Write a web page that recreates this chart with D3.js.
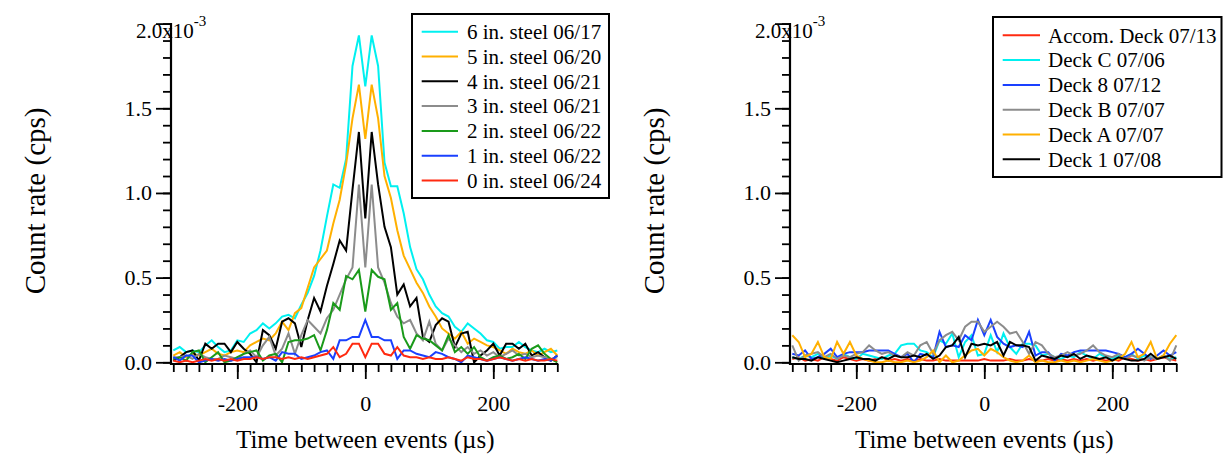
<!DOCTYPE html>
<html>
<head>
<meta charset="utf-8">
<script src="https://cdn.jsdelivr.net/npm/d3@7"></script>
<style>
  body { margin: 0; background: #fff; }
  svg text { font-family: "Liberation Serif", "Times New Roman", serif; fill: #000; }
</style>
</head>
<body>
<svg id="chart" width="1223" height="458"></svg>
<script>
// ---- data (count rate in units of 1e-3 cps) ----
const timeUs = [-300, -290, -280, -270, -260, -250, -240, -230, -220, -210,
  -200, -190, -180, -170, -160, -150, -140, -130, -120, -110,
  -100, -90, -80, -70, -60, -50, -40, -30, -20, -10,
  0, 10, 20, 30, 40, 50, 60, 70, 80, 90,
  100, 110, 120, 130, 140, 150, 160, 170, 180, 190,
  200, 210, 220, 230, 240, 250, 260, 270, 280, 290, 300];

// left panel: steel thickness
const steel6 = [0.07, 0.09, 0.06, 0.07, 0.06, 0.10, 0.13, 0.09, 0.06, 0.07,
  0.13, 0.12, 0.17, 0.19, 0.23, 0.20, 0.23, 0.27, 0.28, 0.26,
  0.34, 0.41, 0.51, 0.66, 0.86, 1.05, 1.03, 1.20, 1.75, 1.93,
  1.63, 1.93, 1.75, 1.18, 1.04, 1.04, 0.88, 0.68, 0.55, 0.49,
  0.40, 0.33, 0.29, 0.27, 0.21, 0.18, 0.23, 0.20, 0.17, 0.13,
  0.12, 0.08, 0.09, 0.09, 0.12, 0.09, 0.07, 0.06, 0.08, 0.06, 0.07];
const steel5 = [0.04, 0.06, 0.03, 0.05, 0.04, 0.06, 0.08, 0.05, 0.04, 0.06,
  0.07, 0.06, 0.10, 0.12, 0.14, 0.13, 0.17, 0.24, 0.19, 0.29,
  0.32, 0.44, 0.56, 0.61, 0.66, 0.82, 0.96, 1.17, 1.44, 1.64,
  1.32, 1.64, 1.44, 1.10, 0.97, 0.78, 0.63, 0.55, 0.47, 0.41,
  0.33, 0.27, 0.20, 0.17, 0.14, 0.18, 0.11, 0.14, 0.12, 0.10,
  0.09, 0.07, 0.05, 0.08, 0.06, 0.05, 0.07, 0.04, 0.06, 0.08, 0.04];
const steel4 = [0.01, 0.03, 0.06, 0.07, 0.01, 0.11, 0.08, 0.11, 0.11, 0.06,
  0.12, 0.08, 0.05, 0.00, 0.19, 0.16, 0.08, 0.24, 0.26, 0.23,
  0.09, 0.25, 0.38, 0.30, 0.45, 0.58, 0.72, 0.66, 1.02, 1.36,
  0.85, 1.36, 1.05, 0.80, 0.68, 0.40, 0.46, 0.33, 0.38, 0.15,
  0.12, 0.22, 0.26, 0.24, 0.09, 0.17, 0.18, 0.00, 0.04, 0.07,
  0.11, 0.04, 0.11, 0.11, 0.08, 0.11, 0.04, 0.06, 0.03, 0.01, 0.04];
const steel3 = [0.03, 0.03, 0.04, 0.02, 0.05, 0.03, 0.02, 0.02, 0.04, 0.03,
  0.02, 0.05, 0.07, 0.03, 0.10, 0.15, 0.04, 0.08, 0.17, 0.05,
  0.16, 0.25, 0.21, 0.17, 0.26, 0.31, 0.40, 0.49, 0.56, 1.05,
  0.56, 1.05, 0.56, 0.47, 0.35, 0.27, 0.23, 0.25, 0.17, 0.13,
  0.24, 0.11, 0.07, 0.14, 0.10, 0.06, 0.09, 0.05, 0.07, 0.04,
  0.06, 0.03, 0.05, 0.07, 0.04, 0.05, 0.03, 0.04, 0.03, 0.02, 0.03];
const steel2 = [0.02, 0.03, 0.01, 0.06, 0.07, 0.00, 0.03, 0.06, 0.00, 0.01,
  0.03, 0.05, 0.06, 0.07, 0.01, 0.04, 0.05, 0.00, 0.12, 0.13,
  0.13, 0.14, 0.16, 0.07, 0.19, 0.35, 0.31, 0.51, 0.49, 0.545,
  0.30, 0.545, 0.505, 0.49, 0.31, 0.35, 0.15, 0.08, 0.16, 0.14,
  0.13, 0.10, 0.07, 0.16, 0.06, 0.09, 0.05, 0.09, 0.03, 0.01,
  0.03, 0.04, 0.02, 0.03, 0.05, 0.02, 0.08, 0.10, 0.05, 0.02, 0.00];
const steel1 = [0.03, 0.01, 0.04, 0.04, 0.00, 0.01, 0.02, 0.01, 0.02, 0.01,
  0.02, 0.03, 0.03, 0.03, 0.02, 0.03, 0.01, 0.06, 0.05, 0.05,
  0.02, 0.03, 0.04, 0.06, 0.07, 0.02, 0.13, 0.13, 0.15, 0.15,
  0.25, 0.15, 0.15, 0.13, 0.13, 0.02, 0.07, 0.07, 0.05, 0.04,
  0.03, 0.06, 0.05, 0.03, 0.02, 0.00, 0.04, 0.03, 0.02, 0.01,
  0.02, 0.03, 0.02, 0.01, 0.02, 0.03, 0.02, 0.01, 0.02, 0.01, 0.04];
const steel0 = [0.01, 0.00, 0.01, 0.00, 0.01, 0.02, 0.01, 0.02, 0.01, 0.02,
  0.01, 0.02, 0.02, 0.03, 0.02, 0.03, 0.03, 0.02, 0.03, 0.02,
  0.03, 0.02, 0.03, 0.04, 0.05, 0.09, 0.03, 0.05, 0.11, 0.11,
  0.03, 0.11, 0.11, 0.05, 0.04, 0.09, 0.04, 0.03, 0.03, 0.02,
  0.03, 0.02, 0.02, 0.03, 0.02, 0.01, 0.03, 0.02, 0.02, 0.01,
  0.02, 0.03, 0.02, 0.01, 0.02, 0.01, 0.02, 0.01, 0.01, 0.02, 0.01];

// right panel: ship decks
const deckAccom = [0.02, 0.03, 0.01, 0.02, 0.01, 0.03, 0.02, 0.01, 0.03, 0.02,
  0.01, 0.02, 0.01, 0.02, 0.03, 0.01, 0.02, 0.01, 0.02, 0.01,
  0.02, 0.01, 0.01, 0.02, 0.01, 0.01, 0.01, 0.01, 0.01, 0.01,
  0.02, 0.01, 0.01, 0.01, 0.02, 0.01, 0.01, 0.02, 0.01, 0.01,
  0.02, 0.01, 0.02, 0.01, 0.02, 0.01, 0.02, 0.01, 0.02, 0.01,
  0.02, 0.01, 0.03, 0.02, 0.01, 0.02, 0.01, 0.02, 0.03, 0.02, 0.01];
const deckC = [0.03, 0.02, 0.04, 0.03, 0.05, 0.02, 0.04, 0.02, 0.05, 0.03,
  0.02, 0.05, 0.04, 0.03, 0.02, 0.04, 0.05, 0.10, 0.11, 0.11,
  0.07, 0.06, 0.03, 0.13, 0.11, 0.17, 0.03, 0.12, 0.16, 0.04,
  0.05, 0.16, 0.06, 0.17, 0.09, 0.05, 0.11, 0.11, 0.10, 0.04,
  0.05, 0.03, 0.02, 0.04, 0.03, 0.06, 0.04, 0.02, 0.05, 0.03,
  0.02, 0.04, 0.03, 0.05, 0.02, 0.04, 0.03, 0.02, 0.04, 0.02, 0.03];
const deck8 = [0.05, 0.04, 0.07, 0.02, 0.03, 0.05, 0.08, 0.03, 0.05, 0.06,
  0.06, 0.06, 0.07, 0.07, 0.07, 0.07, 0.05, 0.03, 0.05, 0.00,
  0.05, 0.04, 0.03, 0.18, 0.09, 0.10, 0.09, 0.16, 0.13, 0.25,
  0.16, 0.25, 0.15, 0.11, 0.09, 0.10, 0.09, 0.18, 0.04, 0.06,
  0.06, 0.01, 0.05, 0.04, 0.06, 0.07, 0.07, 0.07, 0.07, 0.07,
  0.06, 0.05, 0.03, 0.05, 0.08, 0.05, 0.02, 0.04, 0.07, 0.04, 0.06];
const deckB = [0.10, 0.01, 0.04, 0.05, 0.06, 0.03, 0.05, 0.02, 0.04, 0.03,
  0.05, 0.06, 0.10, 0.07, 0.05, 0.06, 0.04, 0.03, 0.06, 0.04,
  0.10, 0.12, 0.05, 0.13, 0.16, 0.18, 0.13, 0.21, 0.24, 0.24,
  0.18, 0.21, 0.24, 0.21, 0.17, 0.18, 0.12, 0.05, 0.12, 0.10,
  0.05, 0.03, 0.04, 0.06, 0.04, 0.05, 0.07, 0.10, 0.06, 0.04,
  0.03, 0.05, 0.02, 0.04, 0.03, 0.01, 0.03, 0.02, 0.04, 0.01, 0.10];
const deckA = [0.16, 0.12, 0.03, 0.05, 0.12, 0.03, 0.02, 0.12, 0.05, 0.12,
  0.04, 0.02, 0.01, 0.00, 0.00, 0.01, 0.00, 0.00, 0.01, 0.00,
  0.01, 0.03, 0.07, 0.00, 0.04, 0.00, 0.01, 0.04, 0.07, 0.08,
  0.04, 0.08, 0.06, 0.03, 0.01, 0.00, 0.01, 0.04, 0.00, 0.01,
  0.00, 0.00, 0.01, 0.00, 0.01, 0.00, 0.01, 0.02, 0.01, 0.00,
  0.01, 0.02, 0.05, 0.12, 0.03, 0.05, 0.12, 0.02, 0.04, 0.11, 0.16];
const deck1 = [0.03, 0.02, 0.02, 0.01, 0.03, 0.02, 0.01, 0.00, 0.01, 0.02,
  0.03, 0.02, 0.02, 0.01, 0.03, 0.02, 0.04, 0.03, 0.03, 0.04,
  0.03, 0.05, 0.02, 0.04, 0.09, 0.10, 0.15, 0.03, 0.11, 0.10,
  0.11, 0.10, 0.12, 0.04, 0.12, 0.10, 0.10, 0.09, 0.01, 0.04,
  0.03, 0.02, 0.04, 0.03, 0.05, 0.02, 0.04, 0.03, 0.02, 0.03,
  0.01, 0.03, 0.02, 0.01, 0.01, 0.02, 0.05, 0.02, 0.03, 0.04, 0.02];

const steelNames = ["6 in. steel 06/17", "5 in. steel 06/20", "4 in. steel 06/21",
  "3 in. steel 06/21", "2 in. steel 06/22", "1 in. steel 06/22", "0 in. steel 06/24"];
const deckNames = ["Accom. Deck 07/13", "Deck C 07/06", "Deck 8 07/12",
  "Deck B 07/07", "Deck A 07/07", "Deck 1 07/08"];

const yMajorTicks = [0, 0.5, 1.0, 1.5];
const yTickLabels = ["0.0", "0.5", "1.0", "1.5"];
const xMajorTicks = [-200, 0, 200];
const xTickLabels = ["-200", "0", "200"];
const xTitle = "Time between events (\u00b5s)";
const yTitle = "Count rate (cps)";

// ---- layout ----
const C = {
  plotW: 384,
  yTop: 23.6,
  yZero: 362.3,
  axisLineX: -2.3,    // y axis sits a bit left of x = -300
  axisLineY: 364,
  minorTick: 8,
  majorTick: 15,
  lineWidth: 2,
  legendRow: 24.8,
  tickFont: 22,
  xTitleFont: 25,
  yTitleFont: 29
};

const panels = [
  {
    left: 173.3,
    series: [steel6, steel5, steel4, steel3, steel2, steel1, steel0],
    names: steelNames,
    colors: ["#00f0f0", "#ffb000", "#000000", "#8c8c8c", "#1a9a1a", "#1a40ff", "#ff2a10"],
    legend: {x: 412, y: 14, w: 197, h: 184, row0: 31.7, lineX0: 421.7, lineX1: 458, textX: 467}
  },
  {
    left: 792.3,
    series: [deckAccom, deckC, deck8, deckB, deckA, deck1],
    names: deckNames,
    colors: ["#ff2a10", "#00f0f0", "#1a40ff", "#8c8c8c", "#ffb000", "#000000"],
    legend: {x: 993, y: 17, w: 228.5, h: 160, row0: 35.3, lineX0: 1002.7, lineX1: 1040, textX: 1048}
  }
];

const svg = d3.select("#chart");

panels.forEach(p => {
  const x = d3.scaleLinear().domain([-300, 300]).range([p.left, p.left + C.plotW]);
  const y = d3.scaleLinear().domain([0, 2.0]).range([C.yZero, C.yTop]);
  const g = svg.append("g");

  // series lines
  const line = d3.line()
    .x((d, i) => x(timeUs[i]))
    .y(d => y(d));
  g.selectAll(".series")
    .data(p.series)
    .join("path")
    .attr("class", "series")
    .attr("d", d => line(d))
    .attr("fill", "none")
    .attr("stroke", (d, i) => p.colors[i])
    .attr("stroke-width", C.lineWidth)
    .attr("stroke-linejoin", "miter");

  // axes
  const ax = p.left + C.axisLineX;
  const yMinor = d3.range(0, 2.01, 0.1);
  const yAxisMinor = g.append("g").attr("transform", `translate(${ax},0)`)
    .call(d3.axisLeft(y).tickValues(yMinor).tickSize(C.minorTick).tickFormat(""));
  const yAxisMajor = g.append("g").attr("transform", `translate(${ax},0)`)
    .call(d3.axisLeft(y).tickValues(yMajorTicks.concat([2.0])).tickSize(C.majorTick)
      .tickPadding(4).tickFormat((d, i) => yTickLabels[i] || ""));
  const xMinor = d3.range(-300, 301, 20);
  const xAxisMinor = g.append("g").attr("transform", `translate(0,${C.axisLineY})`)
    .call(d3.axisBottom(x).tickValues(xMinor).tickSize(C.minorTick).tickFormat(""));
  const xAxisMajor = g.append("g").attr("transform", `translate(0,${C.axisLineY})`)
    .call(d3.axisBottom(x).tickValues(xMajorTicks).tickSize(C.majorTick)
      .tickPadding(16).tickFormat((d, i) => xTickLabels[i]));

  [yAxisMinor, yAxisMajor, xAxisMinor, xAxisMajor].forEach(a => {
    a.attr("font-family", null).attr("font-size", null);
    a.select(".domain").remove();
    a.selectAll(".tick line").attr("stroke", "#000").attr("stroke-width", 1.8);
    a.selectAll("text").style("font-size", C.tickFont + "px");
  });

  // axis lines
  g.append("line")
    .attr("x1", ax).attr("x2", ax)
    .attr("y1", C.yTop - 0.5).attr("y2", C.axisLineY + 1)
    .attr("stroke", "#000").attr("stroke-width", 2.2);
  g.append("line")
    .attr("x1", ax - 1).attr("x2", p.left + C.plotW + 1)
    .attr("y1", C.axisLineY).attr("y2", C.axisLineY)
    .attr("stroke", "#000").attr("stroke-width", 2.2);

  // exponent label at the top of the y axis
  const expLabel = g.append("text")
    .attr("x", ax - 35)
    .attr("y", y(2.0) + 14)
    .attr("text-anchor", "start")
    .style("font-size", "21px");
  expLabel.append("tspan").text("2.0x10");
  expLabel.append("tspan").attr("dy", -12).style("font-size", "15px").text("-3");

  // axis titles
  g.append("text")
    .attr("transform", `translate(${p.left - 128},${(C.yTop + C.yZero) / 2 + 8}) rotate(-90)`)
    .attr("text-anchor", "middle")
    .style("font-size", C.yTitleFont + "px")
    .text(yTitle);
  g.append("text")
    .attr("x", x(0))
    .attr("y", 448)
    .attr("text-anchor", "middle")
    .style("font-size", C.xTitleFont + "px")
    .text(xTitle);

  // legend
  const L = p.legend;
  g.append("rect")
    .attr("x", L.x).attr("y", L.y)
    .attr("width", L.w).attr("height", L.h)
    .attr("fill", "#fff").attr("stroke", "#000").attr("stroke-width", 2);
  const items = g.selectAll(".legend-item")
    .data(p.names)
    .join("g")
    .attr("class", "legend-item")
    .attr("transform", (d, i) => `translate(0,${L.row0 + i * C.legendRow})`);
  items.append("line")
    .attr("x1", L.lineX0).attr("x2", L.lineX1)
    .attr("stroke", (d, i) => p.colors[i])
    .attr("stroke-width", 2);
  items.append("text")
    .attr("x", L.textX)
    .attr("dy", "0.35em")
    .style("font-size", "21px")
    .text(d => d);
});
</script>
</body>
</html>
